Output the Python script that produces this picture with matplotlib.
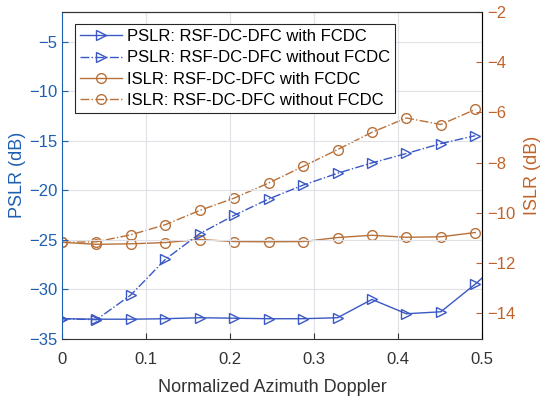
import matplotlib.pyplot as plt
import numpy as np

# ========== DATA ==========
doppler = [0, 0.041, 0.082, 0.123, 0.164, 0.205, 0.246, 0.287, 0.328, 0.369, 0.41, 0.451, 0.492]
doppler_ext = doppler + [0.533]  # last point lies outside the axis (clipped)

pslr_with = [-33.0, -33.05, -33.05, -33.0, -32.9, -32.95, -33.0, -33.0, -32.9, -31.05, -32.5, -32.3, -29.5, -26.4]
pslr_without = [-33.0, -33.1, -30.6, -27.0, -24.4, -22.55, -20.9, -19.5, -18.3, -17.25, -16.3, -15.3, -14.5]
islr_with = [-11.17, -11.25, -11.23, -11.18, -11.06, -11.14, -11.15, -11.14, -10.98, -10.89, -10.97, -10.95, -10.78]
islr_without = [-11.17, -11.15, -10.87, -10.47, -9.9, -9.41, -8.81, -8.15, -7.48, -6.79, -6.22, -6.48, -5.88]

labels = [
    "PSLR: RSF-DC-DFC with FCDC",
    "PSLR: RSF-DC-DFC without FCDC",
    "ISLR: RSF-DC-DFC with FCDC",
    "ISLR: RSF-DC-DFC without FCDC",
]

# ========== STYLE ==========
BLUE_AX = "#1f5fb0"
BLUE_LN = "#3a58c4"
ORANGE_AX = "#c0632a"
ORANGE_LN = "#b8713a"
GRAY = "#333333"

plt.rcParams["font.family"] = ["Liberation Sans", "DejaVu Sans"]

fig = plt.figure(figsize=(5.5, 3.99), dpi=100)
ax = fig.add_axes([62 / 550, 1 - 338.5 / 399, 420 / 550, 326.5 / 399])
ax2 = ax.twinx()

# ========== PLOT ==========
l1, = ax.plot(doppler_ext, pslr_with, "-", color=BLUE_LN, lw=1.0,
              marker=">", ms=7.5, mfc="none", mew=1.0)
l2, = ax.plot(doppler, pslr_without, "-.", color=BLUE_LN, lw=1.0,
              marker=">", ms=7.5, mfc="none", mew=1.0)
l3, = ax2.plot(doppler, islr_with, "-", color=ORANGE_LN, lw=1.0,
               marker="o", ms=7, mfc="none", mew=1.0)
l4, = ax2.plot(doppler, islr_without, "-.", color=ORANGE_LN, lw=1.0,
               marker="o", ms=7, mfc="none", mew=1.0)

ax.set_xlim(0, 0.5)
ax.set_ylim(-35, -2)
ax2.set_ylim(-15, -2)

ax.set_xticks(np.arange(0, 0.51, 0.1))
ax.set_xticklabels(["0", "0.1", "0.2", "0.3", "0.4", "0.5"])
ax.set_yticks(np.arange(-35, -4, 5))
ax2.set_yticks(np.arange(-14, -1, 2))

ax.grid(True, color="#e0e0e6", lw=0.8)
ax.set_axisbelow(True)

ax.tick_params(axis="x", direction="in", colors=GRAY, labelsize=12, pad=10, length=4)
ax.tick_params(axis="y", direction="in", colors=BLUE_AX, labelsize=12, length=4)
ax2.tick_params(axis="y", direction="in", colors=ORANGE_AX, labelsize=12, length=4)

ax.spines["left"].set_color(BLUE_AX)
ax.spines["bottom"].set_color(GRAY)
ax.spines["top"].set_color(GRAY)
ax2.spines["right"].set_color(ORANGE_AX)
ax2.spines["left"].set_visible(False)
ax2.spines["top"].set_color(GRAY)
ax2.spines["bottom"].set_visible(False)
for a in (ax, ax2):
    for s in a.spines.values():
        s.set_linewidth(0.8)

ax.set_xlabel("Normalized Azimuth Doppler", fontsize=13, color=GRAY, labelpad=8)
ax.set_ylabel("PSLR (dB)", fontsize=13, color=BLUE_AX, labelpad=2)
ax2.set_ylabel("ISLR (dB)", fontsize=13, color=ORANGE_AX, labelpad=6)

leg = ax.legend([l1, l2, l3, l4], labels, loc="upper left",
                bbox_to_anchor=(0.031, 0.963), fontsize=12, frameon=True,
                fancybox=False, edgecolor="#262626", framealpha=1,
                handlelength=2.5, handletextpad=0.3, borderpad=0.3,
                labelspacing=0.38, borderaxespad=0)
leg.get_frame().set_linewidth(0.8)
leg.set_zorder(10)
ax.set_zorder(ax2.get_zorder() + 1)
ax.patch.set_visible(False)

fig.savefig("out.png", dpi=100)
